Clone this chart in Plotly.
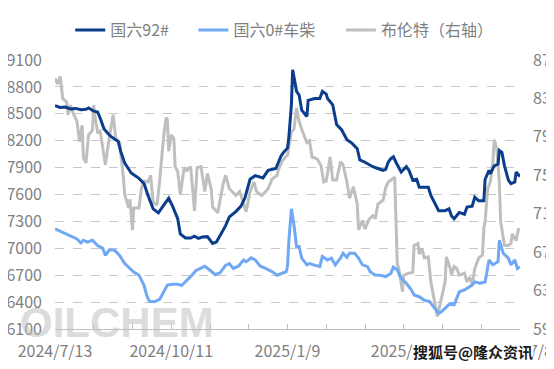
import pandas as pd
import plotly.graph_objects as go

START = "2024-07-13"

# 国六92# (left axis) : day offsets from START and values
days_92 = [0, 4, 8, 12, 16, 20, 24, 26, 30, 33, 35, 38, 41, 43, 49, 51, 54, 57, 59, 65,
           69, 72, 76, 80, 84, 87, 88, 91, 95, 97, 101, 105, 108, 111, 114, 118, 122, 125, 128, 132,
           135, 140, 144, 147, 151, 155, 161, 165, 171, 175, 177, 180, 181, 183, 184, 186, 187, 189, 191, 195,
           196, 201, 205, 207, 210, 211, 215, 218, 222, 226, 230, 234, 236, 240, 246, 250, 254, 256, 258, 260,
           262, 264, 265, 268, 272, 274, 277, 280, 282, 289, 291, 294, 297, 302, 305, 307, 309, 313, 317, 319,
           323, 325, 328, 332, 333, 336, 337, 340, 343, 344, 346, 348, 351, 353, 356, 357, 360]
val_92 = [8590, 8570, 8575, 8555, 8560, 8545, 8550, 8565, 8530, 8520, 8450, 8330, 8280, 8250, 8190, 8075, 7950, 7880, 7840, 7780,
          7720, 7590, 7440, 7395, 7480, 7540, 7560, 7470, 7330, 7160, 7115, 7115, 7135, 7110, 7125, 7130, 7055, 7070, 7150, 7250,
          7350, 7410, 7470, 7560, 7770, 7810, 7785, 7870, 7890, 8030, 8070, 8120, 8230, 8600, 8990, 8850, 8750, 8710, 8540, 8470,
          8650, 8670, 8670, 8750, 8720, 8670, 8600, 8380, 8320, 8210, 8170, 8110, 7985, 7960, 7910, 7890, 7870, 7880, 7960, 8000,
          8020, 7960, 7930, 7850, 7910, 7870, 7760, 7770, 7680, 7680, 7590, 7510, 7420, 7420, 7440, 7360, 7330, 7400, 7380, 7460,
          7470, 7570, 7530, 7530, 7770, 7870, 7830, 7920, 7940, 8090, 8070, 7920, 7760, 7720, 7740, 7850, 7800]

# 国六0#车柴 (left axis)
days_0 = [0, 6, 12, 17, 20, 22, 25, 29, 33, 37, 39, 42, 46, 50, 54, 58, 61, 65, 69, 71,
          73, 77, 81, 84, 87, 91, 95, 98, 102, 106, 109, 113, 116, 120, 124, 128, 132, 135, 138, 142,
          146, 148, 152, 155, 159, 163, 168, 172, 176, 179, 180, 181, 183, 185, 187, 189, 191, 195, 197, 201,
          205, 207, 211, 214, 217, 221, 223, 226, 228, 232, 235, 238, 242, 244, 248, 252, 256, 260, 262, 265,
          268, 272, 276, 278, 282, 286, 290, 294, 297, 299, 303, 306, 309, 313, 317, 319, 323, 325, 329, 333,
          336, 339, 343, 344, 347, 351, 353, 356, 358, 360]
val_0 = [7218, 7180, 7140, 7105, 7060, 7090, 7070, 7090, 7030, 7000, 6920, 6980, 6980, 6920, 6830, 6770, 6735, 6700, 6585, 6475,
         6410, 6405, 6430, 6510, 6590, 6600, 6600, 6585, 6640, 6700, 6750, 6775, 6800, 6755, 6705, 6730, 6810, 6830, 6775, 6800,
         6870, 6850, 6895, 6870, 6800, 6775, 6740, 6700, 6720, 6740, 6800, 7070, 7440, 7260, 7020, 7020, 6890, 6815, 6830, 6815,
         6795, 6910, 6870, 6890, 6815, 6890, 6945, 6900, 6945, 6945, 6890, 6815, 6795, 6740, 6700, 6700, 6685, 6720, 6790, 6760,
         6665, 6610, 6535, 6480, 6460, 6420, 6405, 6330, 6275, 6290, 6350, 6385, 6370, 6515, 6535, 6555, 6590, 6625, 6610, 6625,
         6870, 6815, 6850, 7090, 6945, 6890, 6815, 6870, 6775, 6795]

# 布伦特 (right axis)
days_brent = [0, 2, 4, 6, 9, 10, 12, 14, 17, 19, 21, 22, 24, 26, 29, 30, 31, 33, 35, 39,
              42, 45, 47, 50, 53, 54, 57, 58, 60, 61, 65, 67, 69, 72, 74, 76, 79, 81, 84, 86,
              87, 88, 90, 92, 93, 95, 97, 100, 102, 105, 108, 110, 113, 116, 118, 121, 122, 126, 130, 132,
              135, 140, 143, 146, 148, 151, 154, 156, 160, 163, 165, 168, 172, 173, 176, 179, 180, 183, 185, 187,
              189, 191, 195, 197, 199, 203, 206, 208, 210, 213, 215, 218, 221, 223, 226, 228, 231, 234, 235, 238,
              240, 243, 246, 248, 250, 254, 256, 258, 262, 263, 265, 266, 269, 270, 274, 277, 278, 281, 282, 284,
              286, 289, 291, 294, 296, 298, 301, 302, 303, 306, 307, 309, 311, 313, 317, 319, 321, 323, 325, 328,
              331, 332, 333, 335, 337, 339, 340, 342, 344, 345, 348, 351, 353, 354, 357, 359]
val_brent = [85.1, 84.5, 85.3, 83.0, 82.6, 81.3, 82.3, 81.5, 80.6, 78.5, 80.2, 76.8, 76.3, 79.2, 79.7, 82.3, 81.0, 79.5, 79.6, 76.1,
             78.9, 81.3, 78.9, 78.4, 74.7, 73.0, 71.6, 72.5, 69.3, 71.6, 71.6, 73.7, 74.4, 74.3, 75.0, 72.2, 71.9, 74.4, 78.9, 81.0,
             80.8, 77.5, 79.2, 78.8, 75.9, 75.4, 73.0, 75.8, 75.5, 75.9, 71.3, 75.8, 75.9, 73.3, 75.2, 73.5, 71.7, 71.1, 74.0, 75.0,
             73.6, 72.9, 73.3, 71.9, 71.2, 73.3, 74.3, 73.3, 72.9, 73.3, 73.6, 74.6, 75.0, 75.6, 76.5, 77.0, 77.1, 79.5, 79.8, 82.0,
             80.6, 79.8, 78.4, 78.6, 76.9, 76.7, 76.0, 74.3, 74.4, 76.9, 74.5, 74.5, 76.4, 76.1, 74.3, 72.6, 73.8, 72.0, 69.3, 70.3,
             69.4, 70.4, 70.8, 70.5, 72.0, 72.4, 73.7, 74.3, 74.7, 74.8, 65.7, 65.4, 62.9, 64.6, 64.8, 64.9, 67.7, 67.9, 66.8, 67.4,
             66.4, 66.5, 63.9, 61.8, 60.3, 61.5, 63.6, 63.9, 66.5, 65.3, 64.6, 65.5, 65.3, 64.6, 64.8, 63.9, 64.4, 63.6, 65.3, 66.4,
             66.7, 69.5, 70.2, 73.6, 74.3, 76.4, 78.7, 77.8, 74.3, 70.2, 67.7, 67.7, 67.9, 68.9, 68.2, 69.5]

names = ["国六92#", "国六0#车柴", "布伦特（右轴）"]
colors = ["#0B3D8C", "#6FA8F5", "#BFBFBF"]

start = pd.Timestamp(START)
def to_dates(days):
    return start + pd.to_timedelta(days, unit="D")

FONT = "Microsoft YaHei, Noto Sans CJK SC, sans-serif"
LABEL = "#7F7F7F"

fig = go.Figure()
fig.add_trace(go.Scatter(x=to_dates(days_92), y=val_92, name=names[0], mode="lines",
                         line=dict(color=colors[0], width=3), yaxis="y2", legend="legend"))
fig.add_trace(go.Scatter(x=to_dates(days_0), y=val_0, name=names[1], mode="lines",
                         line=dict(color=colors[1], width=3), yaxis="y2", legend="legend2"))
fig.add_trace(go.Scatter(x=to_dates(days_brent), y=val_brent, name=names[2], mode="lines",
                         line=dict(color=colors[2], width=3), yaxis="y", legend="legend3"))

def leg(xpos):
    return dict(orientation="h", x=xpos, xanchor="left", y=1.111, yanchor="middle",
                font=dict(size=16, color=LABEL), itemwidth=30, bgcolor="rgba(0,0,0,0)")

day_ms = 86400000
# the page body adds an 8px offset, so the figure is sized 8px smaller
fig.update_layout(
    width=546, height=361,
    margin=dict(l=47, r=34, t=52, b=40, autoexpand=False),
    paper_bgcolor="white", plot_bgcolor="white",
    font=dict(family=FONT, color=LABEL, size=16),
    showlegend=True,
    legend=leg(0.0328), legend2=leg(0.2976), legend3=leg(0.6149),
    xaxis=dict(type="date", range=[start, start + pd.Timedelta(days=360)],
               tick0=START, dtick=90 * day_ms, tickformat="%Y/%-m/%-d", tickangle=0,
               ticks="inside", ticklen=5, tickcolor="#BFBFBF", automargin=False,
               showline=True, linecolor="#BFBFBF", linewidth=1,
               showgrid=False, zeroline=False, ticklabelstandoff=8,
               tickfont=dict(size=16, color=LABEL),
               minor=dict(tick0=START, dtick=30 * day_ms, ticks="inside", ticklen=5,
                          tickcolor="#BFBFBF", showgrid=False)),
    yaxis=dict(side="right", range=[59, 87], tick0=59, dtick=4, automargin=False,
               showgrid=False, zeroline=False, showline=False,
               tickfont=dict(size=16, color=LABEL), ticklabelstandoff=12),
    yaxis2=dict(side="left", overlaying="y", range=[6100, 9100], tick0=6100, dtick=300,
                automargin=False,
                showgrid=True, gridcolor="#C8C8C8", griddash="dash", gridwidth=1,
                zeroline=False, showline=False,
                tickfont=dict(size=16, color=LABEL), ticklabelstandoff=12),
)

fig.add_annotation(text="<b>OILCHEM</b>", xref="paper", yref="paper", x=0.133, y=0.025,
                   xanchor="center", yanchor="middle", showarrow=False,
                   font=dict(family="Liberation Sans, Arial, sans-serif",
                             size=42, color="rgba(190,190,190,0.55)"))
fig.add_annotation(text="<b>搜狐号@隆众资讯</b>", xref="paper", yref="paper", x=0.768, y=-0.082,
                   xanchor="left", yanchor="middle", showarrow=False, bgcolor="white", borderpad=0,
                   font=dict(family="Noto Sans CJK SC, sans-serif", size=15, color="#1A1A1A"))

fig.write_html("out.html")
